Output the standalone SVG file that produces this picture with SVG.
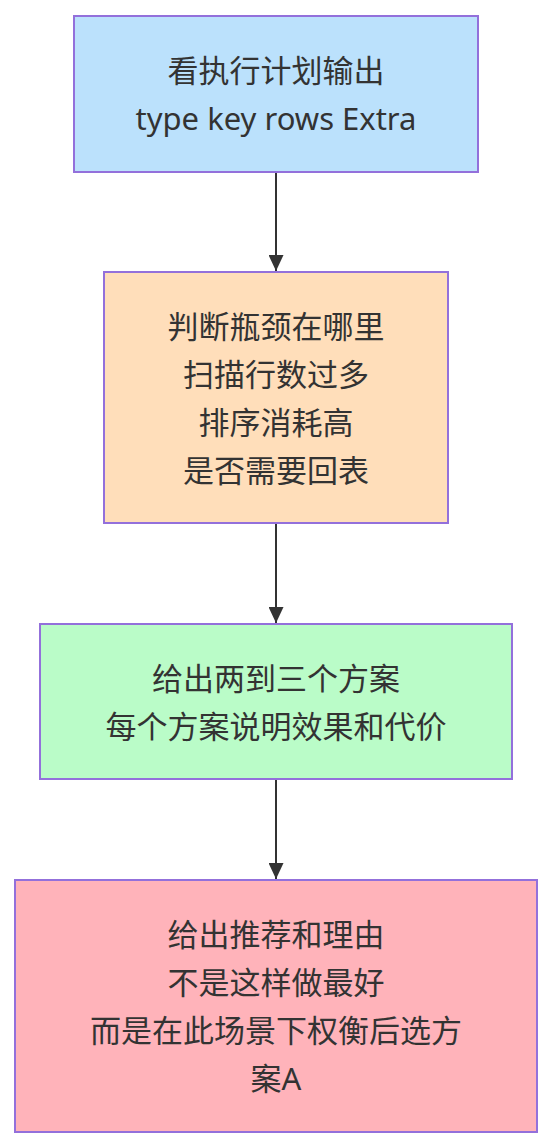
<svg xmlns="http://www.w3.org/2000/svg" width="552" height="1148" viewBox="0 0 552 1148">
  <style>
    .box { stroke: #9370DB; stroke-width: 2; }
    .lbl { font-family: "Trebuchet MS", "Noto Sans", "Noto Sans CJK SC", sans-serif; font-size: 31px; fill: #333333; text-anchor: middle; dominant-baseline: central; }
    .edge { stroke: #333333; stroke-width: 2; fill: none; }
  </style>
  <defs>
    <marker id="arrow" viewBox="0 0 16 15" refX="16" refY="7.5" markerWidth="16" markerHeight="15" markerUnits="userSpaceOnUse" orient="auto">
      <path d="M0,0 L16,7.5 L0,15 Z" fill="#333333"/>
    </marker>
  </defs>
  <rect width="552" height="1148" fill="#ffffff"/>
  <g id="connectors">
    <line class="edge" x1="276" y1="172" x2="276" y2="271" marker-end="url(#arrow)"/>
    <line class="edge" x1="276" y1="523" x2="276" y2="623" marker-end="url(#arrow)"/>
    <line class="edge" x1="276" y1="779" x2="276" y2="879" marker-end="url(#arrow)"/>
  </g>
  <g id="node1">
    <rect class="box" x="74" y="16" width="404" height="156" fill="#BBE1FC"/>
    <text class="lbl" x="276" y="70">看执行计划输出</text>
    <text class="lbl" x="276" y="118">type key rows Extra</text>
  </g>
  <g id="node2">
    <rect class="box" x="104" y="272" width="344" height="251" fill="#FFDEBA"/>
    <text class="lbl" x="276" y="325.5">判断瓶颈在哪里</text>
    <text class="lbl" x="276" y="373.5">扫描行数过多</text>
    <text class="lbl" x="276" y="421.5">排序消耗高</text>
    <text class="lbl" x="276" y="469.5">是否需要回表</text>
  </g>
  <g id="node3">
    <rect class="box" x="40" y="624" width="472" height="155" fill="#BAFCC8"/>
    <text class="lbl" x="276" y="677.5">给出两到三个方案</text>
    <text class="lbl" x="276" y="725.5">每个方案说明效果和代价</text>
  </g>
  <g id="node4">
    <rect class="box" x="15" y="880" width="522" height="252" fill="#FFB3BA"/>
    <text class="lbl" x="276" y="934">给出推荐和理由</text>
    <text class="lbl" x="276" y="982">不是这样做最好</text>
    <text class="lbl" x="276" y="1030">而是在此场景下权衡后选方</text>
    <text class="lbl" x="276" y="1078">案A</text>
  </g>
</svg>
